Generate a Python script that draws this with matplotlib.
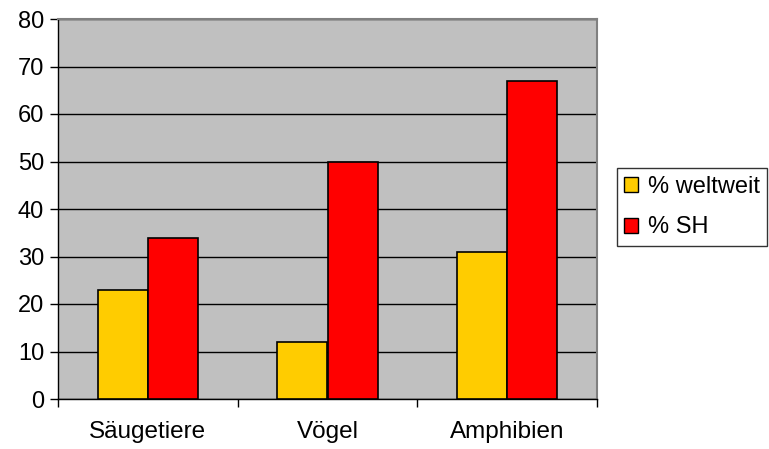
import matplotlib
matplotlib.use("Agg")
import matplotlib.pyplot as plt
import numpy as np

# Anteil gefährdeter Arten in Prozent
categories = ["Säugetiere", "Vögel", "Amphibien"]
weltweit = [23, 12, 31]
sh = [34, 50, 67]
series_labels = ["% weltweit", "% SH"]

plt.rcParams["font.family"] = ["Liberation Sans", "DejaVu Sans"]


def mk_bar():
    """draw grouped bar chart in the old spreadsheet look."""
    fig = plt.figure(figsize=(7.69, 4.49), dpi=100)
    ax = fig.add_axes([58 / 769, 1 - 399 / 449, 539 / 769, 380 / 449])
    ax.set_facecolor("#c0c0c0")

    x = np.arange(len(categories))
    width = 0.28
    ax.bar(x - width / 2, weltweit, width=width, color="#ffcc00",
           edgecolor="black", linewidth=1.2, label=series_labels[0], zorder=3)
    ax.bar(x + width / 2, sh, width=width, color="#ff0000",
           edgecolor="black", linewidth=1.2, label=series_labels[1], zorder=3)

    ax.set_xlim(-0.5, len(categories) - 0.5)
    ax.set_ylim(0, 80)
    ax.set_yticks(np.arange(0, 81, 10))
    ax.yaxis.grid(True, color="black", linewidth=1.0, zorder=1)
    ax.set_axisbelow(True)

    # ticks between the categories, labels in the middle
    ax.set_xticks(np.arange(-0.5, len(categories), 1.0))
    ax.set_xticklabels([])
    ax.set_xticks(x, minor=True)
    ax.set_xticklabels(categories, minor=True, fontsize=17.5)
    ax.tick_params(axis="x", which="minor", length=0, pad=15.5)
    ax.tick_params(axis="x", which="major", length=6, width=1, direction="out")
    ax.tick_params(axis="y", length=6, width=1, direction="out", labelsize=17, pad=4)

    for side in ["top", "right"]:
        ax.spines[side].set_color("#808080")
        ax.spines[side].set_linewidth(1.5)
    for side in ["left", "bottom"]:
        ax.spines[side].set_color("black")
        ax.spines[side].set_linewidth(1.0)

    leg = ax.legend(loc="center left", bbox_to_anchor=(617 / 769, 1 - 207 / 449),
                    bbox_transform=fig.transFigure, fontsize=17,
                    frameon=True, fancybox=False, edgecolor="black",
                    handlelength=0.6, handleheight=0.6, handletextpad=0.4,
                    borderpad=0.3, labelspacing=0.8, borderaxespad=0)
    leg.get_frame().set_linewidth(1.0)
    for h in leg.legend_handles:
        h.set_linewidth(1.0)

    fig.savefig("out.png", dpi=100)


if __name__ == "__main__":
    mk_bar()
